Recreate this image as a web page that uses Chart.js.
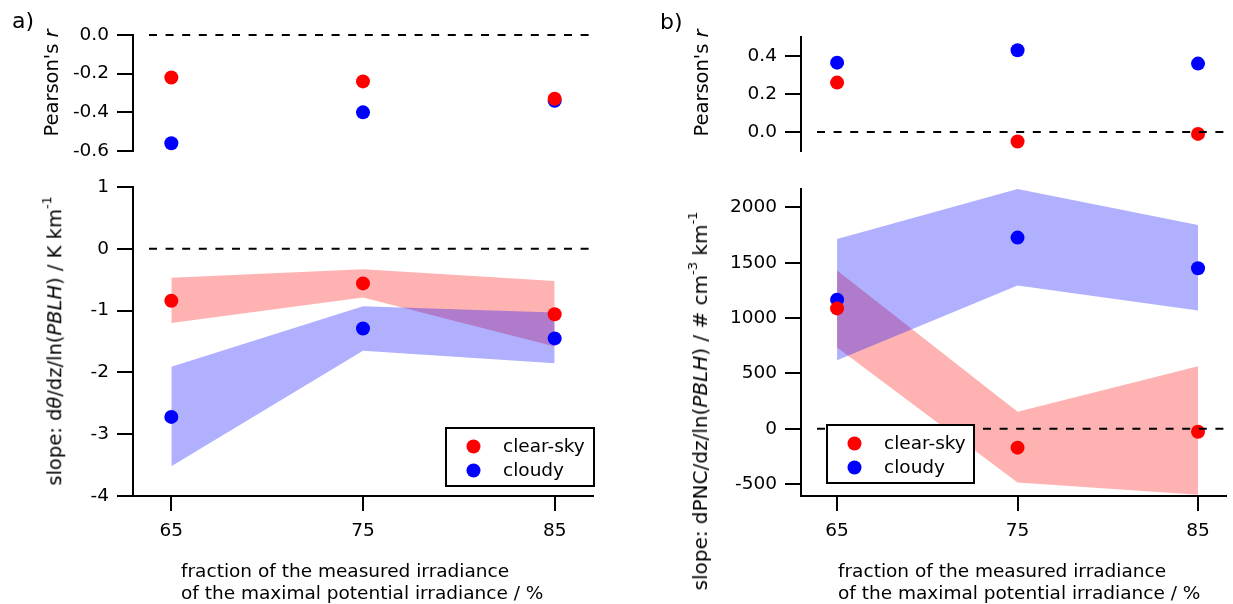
<!DOCTYPE html>
<html>
<head>
<meta charset="utf-8">
<script src="https://cdn.jsdelivr.net/npm/chart.js@4.4.1/dist/chart.umd.min.js"></script>
<style>
  body { margin: 0; width: 1233px; height: 604px; background: #fff; position: relative; overflow: hidden;
         font-family: 'DejaVu Sans', sans-serif; font-size: 18.5px; color: #000; }
  canvas { position: absolute; }
  .lbl { position: absolute; white-space: nowrap; line-height: 1; }
  .rot { transform: translate(-50%, -50%) rotate(-90deg); font-size: 19.5px; }
  sup { font-size: 0.65em; vertical-align: 0; position: relative; top: -0.8em; }
</style>
</head>
<body>
<canvas id="aTop"></canvas>
<canvas id="aBottom"></canvas>
<canvas id="bTop"></canvas>
<canvas id="bBottom"></canvas>

<div class="lbl" style="left:12px;top:10px;font-size:22px">a)</div>
<div class="lbl" style="left:660px;top:11px;font-size:22px">b)</div>

<div class="lbl rot" style="left:52px;top:83px">Pearson's <i>r</i></div>
<div class="lbl rot" style="left:55px;top:341px">slope: d<i>θ</i>/dz/ln(<i>PBLH</i>) / K km<sup>-1</sup></div>
<div class="lbl rot" style="left:702px;top:83px">Pearson's <i>r</i></div>
<div class="lbl rot" style="left:700px;top:401px;font-size:20px">slope: dPNC/dz/ln(<i>PBLH</i>) / # cm<sup>-3</sup> km<sup>-1</sup></div>

<div class="lbl" style="left:181px;top:560px;line-height:22px">fraction of the measured irradiance<br>of the maximal potential irradiance / %</div>
<div class="lbl" style="left:838px;top:560px;line-height:22px">fraction of the measured irradiance<br>of the maximal potential irradiance / %</div>

<script>
// fraction of measured / maximal potential irradiance (%)
const fractions = [65, 75, 85];
const xTicks = [65, 75, 85];

// a) potential temperature gradient
const rThetaClear = [-0.22, -0.24, -0.33];
const rThetaCloudy = [-0.56, -0.40, -0.34];
const slopeThetaClear = [-0.84, -0.56, -1.06];
const slopeThetaClearLow = [-1.20, -0.79, -1.58];
const slopeThetaClearHigh = [-0.47, -0.33, -0.52];
const slopeThetaCloudy = [-2.72, -1.29, -1.45];
const slopeThetaCloudyLow = [-3.52, -1.65, -1.85];
const slopeThetaCloudyHigh = [-1.91, -0.93, -1.03];
const rThetaTicks = [0, -0.2, -0.4, -0.6];
const slopeThetaTicks = [1, 0, -1, -2, -3, -4];

// b) particle number concentration gradient
const rPncClear = [0.26, -0.05, -0.01];
const rPncCloudy = [0.365, 0.43, 0.36];
const slopePncClear = [1087, -171, -27];
const slopePncClearLow = [733, -486, -597];
const slopePncClearHigh = [1430, 153, 565];
const slopePncCloudy = [1166, 1727, 1450];
const slopePncCloudyLow = [619, 1295, 1069];
const slopePncCloudyHigh = [1715, 2166, 1841];
const rPncTicks = [0, 0.2, 0.4];
const slopePncTicks = [-500, 0, 500, 1000, 1500, 2000];

const RED = '#ff0000';
const BLUE = '#0000ff';
const RED_BAND = 'rgba(255,0,0,0.3)';
const BLUE_BAND = 'rgba(0,0,255,0.31)';
const FONT = { family: "'DejaVu Sans', sans-serif", size: 18.5 };

function pts(ys) {
  return fractions.map((x, i) => ({ x, y: ys[i] }));
}

function pointSet(label, ys, color) {
  return { type: 'scatter', label, data: pts(ys), backgroundColor: color,
           borderWidth: 0, pointRadius: 7, pointHoverRadius: 7, order: 0 };
}

function bandSets(low, high, color, order) {
  const none = 'rgba(0,0,0,0)';
  return [
    { type: 'line', data: pts(low), borderColor: none, borderWidth: 0, pointRadius: 0, fill: false, order },
    { type: 'line', data: pts(high), borderColor: none, borderWidth: 0, pointRadius: 0, fill: '-1',
      backgroundColor: color, order }
  ];
}

// dashed line at zero
const zeroLine = {
  id: 'zeroLine',
  afterDatasetsDraw(chart) {
    const { ctx, chartArea, scales } = chart;
    const y = scales.y.getPixelForValue(0);
    ctx.save();
    ctx.strokeStyle = '#000';
    ctx.lineWidth = 2;
    ctx.setLineDash([8, 8.6]);
    ctx.beginPath();
    ctx.moveTo(chartArea.left + 16, y);
    ctx.lineTo(chartArea.right, y);
    ctx.stroke();
    ctx.restore();
  }
};

// boxed legend inside the plot
const boxLegend = {
  id: 'boxLegend',
  afterDraw(chart, args, opts) {
    if (opts.w === undefined) return;
    const ctx = chart.ctx;
    ctx.save();
    ctx.fillStyle = '#fff';
    ctx.fillRect(opts.x, opts.y, opts.w, opts.h);
    ctx.strokeStyle = '#000';
    ctx.lineWidth = 2;
    ctx.strokeRect(opts.x, opts.y, opts.w, opts.h);
    const items = chart.data.datasets.filter(d => d.label);
    items.forEach((d, i) => {
      const cy = opts.y + 18.5 + i * 24;
      ctx.fillStyle = d.backgroundColor;
      ctx.beginPath();
      ctx.arc(opts.x + 27.5, cy, 7, 0, Math.PI * 2);
      ctx.fill();
      ctx.fillStyle = '#000';
      ctx.font = "18.5px 'DejaVu Sans', sans-serif";
      ctx.textBaseline = 'middle';
      ctx.fillText(d.label, opts.x + 57, cy + 1);
    });
    ctx.restore();
  }
};

function makeChart(id, c) {
  const cv = document.getElementById(id);
  const [bx, by, bw, bh] = c.box;
  cv.width = bw;
  cv.height = bh;
  cv.style.left = bx + 'px';
  cv.style.top = by + 'px';
  const aL = c.area[0] - bx, aT = c.area[1] - by, aR = c.area[2] - bx, aB = c.area[3] - by;

  return new Chart(cv, {
    data: { datasets: c.datasets },
    options: {
      responsive: false,
      animation: false,
      devicePixelRatio: 1,
      events: [],
      layout: { padding: { left: 0, top: aT, right: bw - aR, bottom: c.showX ? 0 : bh - aB } },
      plugins: {
        legend: { display: false },
        tooltip: { enabled: false },
        boxLegend: c.legend || {}
      },
      scales: {
        x: {
          type: 'linear',
          min: c.xMin,
          max: c.xMax,
          display: c.showX,
          afterBuildTicks: s => { s.ticks = xTicks.map(v => ({ value: v })); },
          afterFit: s => { s.height = c.showX ? bh - aB : 0; },
          border: { display: true, color: '#000', width: 2 },
          grid: { drawOnChartArea: false, drawTicks: true, tickLength: 15, color: '#000', lineWidth: 2 },
          ticks: { color: '#000', font: FONT, padding: 9, autoSkip: false, maxRotation: 0,
                   callback: v => String(v) }
        },
        y: {
          type: 'linear',
          min: c.yMin,
          max: c.yMax,
          afterBuildTicks: s => { s.ticks = c.yTicks.map(v => ({ value: v })); },
          afterFit: s => { s.width = aL; },
          border: { display: true, color: '#000', width: 2 },
          grid: { drawOnChartArea: false, drawTicks: true, tickLength: 16, color: '#000', lineWidth: 2 },
          ticks: { color: '#000', font: FONT, padding: 8, callback: c.fmt }
        }
      }
    },
    plugins: [zeroLine, boxLegend]
  });
}

const oneDec = v => v.toFixed(1);
const plain = v => String(v);

makeChart('aTop', {
  box: [0, 0, 610, 175], area: [133, 35, 593, 151], showX: false,
  xMin: 63, xMax: 87, yMin: -0.6, yMax: 0, yTicks: rThetaTicks, fmt: oneDec,
  datasets: [pointSet('clear-sky', rThetaClear, RED), pointSet('cloudy', rThetaCloudy, BLUE)]
});

makeChart('aBottom', {
  box: [0, 160, 610, 444], area: [133, 187, 593, 496], showX: true,
  xMin: 63, xMax: 87, yMin: -4, yMax: 1, yTicks: slopeThetaTicks, fmt: plain,
  legend: { x: 446, y: 428 - 160, w: 148, h: 58 },
  datasets: [
    pointSet('clear-sky', slopeThetaClear, RED),
    pointSet('cloudy', slopeThetaCloudy, BLUE),
    ...bandSets(slopeThetaCloudyLow, slopeThetaCloudyHigh, BLUE_BAND, 1),
    ...bandSets(slopeThetaClearLow, slopeThetaClearHigh, RED_BAND, 2)
  ]
});

makeChart('bTop', {
  box: [640, 0, 593, 175], area: [801, 37, 1230, 151], showX: false,
  xMin: 63, xMax: 86.55, yMin: -0.1, yMax: 0.5, yTicks: rPncTicks, fmt: oneDec,
  datasets: [pointSet('clear-sky', rPncClear, RED), pointSet('cloudy', rPncCloudy, BLUE)]
});

makeChart('bBottom', {
  box: [640, 160, 593, 444], area: [801, 189, 1230, 496], showX: true,
  xMin: 63, xMax: 86.55, yMin: -608, yMax: 2166, yTicks: slopePncTicks, fmt: plain,
  legend: { x: 827 - 640, y: 425 - 160, w: 147, h: 58 },
  datasets: [
    pointSet('clear-sky', slopePncClear, RED),
    pointSet('cloudy', slopePncCloudy, BLUE),
    ...bandSets(slopePncCloudyLow, slopePncCloudyHigh, BLUE_BAND, 1),
    ...bandSets(slopePncClearLow, slopePncClearHigh, RED_BAND, 2)
  ]
});
</script>
</body>
</html>
